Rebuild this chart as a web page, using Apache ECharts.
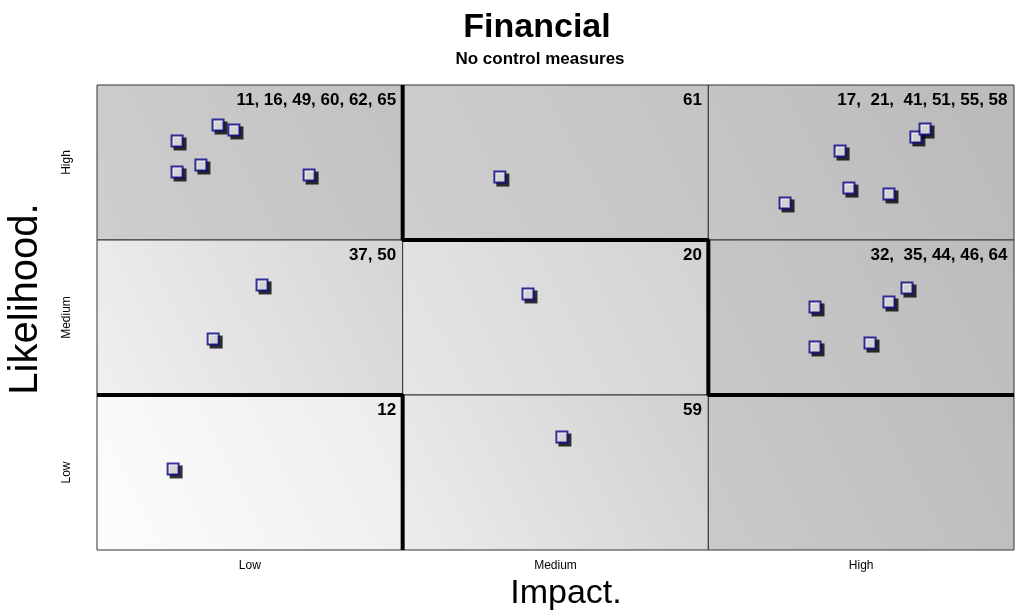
<!DOCTYPE html>
<html><head><meta charset="utf-8">
<script src="https://cdn.jsdelivr.net/npm/echarts@6/dist/echarts.min.js"></script>
<style>html,body{margin:0;padding:0;background:#fff}#c{width:1016px;height:616px}</style>
</head><body><div id="c"></div>
<script>
// ---- data ----
const chartTitle = 'Financial';
const chartSubtitle = 'No control measures';
const impactLevels = ['Low', 'Medium', 'High'];
const likelihoodLevels = ['Low', 'Medium', 'High'];
const impactAxisName = 'Impact.';
const likelihoodAxisName = 'Likelihood.';
// risk points on a 0-3 scale (each level spans one unit)
const pointImpact = [0.262, 0.340, 0.262, 0.694, 0.396, 0.448, 1.318, 2.251, 2.460, 2.591, 2.431, 2.679, 2.709, 0.380, 0.540, 1.410, 2.349, 2.529, 2.349, 2.591, 2.650, 0.249, 1.521];
const pointLikelihood = [2.639, 2.484, 2.439, 2.419, 2.742, 2.710, 2.406, 2.239, 2.335, 2.297, 2.574, 2.665, 2.716, 1.361, 1.710, 1.652, 1.310, 1.335, 1.568, 1.600, 1.690, 0.523, 0.729];
// risk ids per cell
const cellImpact = [0, 1, 2, 0, 1, 2, 0, 1, 2];
const cellLikelihood = [2, 2, 2, 1, 1, 1, 0, 0, 0];
const cellRiskIds = ['11, 16, 49, 60, 62, 65', '61', '17,  21,  41, 51, 55, 58', '37, 50', '20', '32,  35, 44, 46, 64', '12', '59', ''];
// zone boundaries
const lowZoneBoundary = [[0, 1], [1, 1], [1, 0]];
const highZoneBoundary = [[1, 3], [1, 2], [2, 2], [2, 1], [3, 1]];

// ---- styles ----
const FONT = 'Liberation Sans, Arial, sans-serif';
const cellShades = [
  ['#cecece', '#c2c2c2'], ['#cecece', '#c4c4c4'], ['#c6c6c6', '#bababa'],
  ['#f0f0f0', '#d4d4d4'], ['#e6e6e6', '#d2d2d2'], ['#c8c8c8', '#bcbcbc'],
  ['#fdfdfd', '#ececec'], ['#ededed', '#cfcfcf'], ['#cacaca', '#bcbcbc']
];

const areas = cellRiskIds.map((ids, k) => [
  {
    name: ids,
    coord: [cellImpact[k], cellLikelihood[k]],
    itemStyle: {
      color: { type: 'linear', x: 0, y: 1, x2: 1, y2: 0,
        colorStops: [{ offset: 0, color: cellShades[k][0] }, { offset: 1, color: cellShades[k][1] }] },
      borderColor: '#333', borderWidth: 1
    }
  },
  { coord: [cellImpact[k] + 1, cellLikelihood[k] + 1] }
]);

const points = pointImpact.map((x, i) => [x, pointLikelihood[i]]);

const chart = echarts.init(document.getElementById('c'), null, { renderer: 'canvas' });
chart.setOption({
  animation: false,
  backgroundColor: '#fff',
  title: [
    { text: chartTitle, left: 532, top: 6, textAlign: 'center', padding: 5,
      textStyle: { fontFamily: FONT, fontSize: 34, fontWeight: 'bold', color: '#000' } },
    { text: chartSubtitle, left: 535, top: 46, textAlign: 'center',
      textStyle: { fontFamily: FONT, fontSize: 17, fontWeight: 'bold', color: '#000' } }
  ],
  grid: { left: 97, right: 2, top: 85, bottom: 66 },
  xAxis: [
    { type: 'value', min: 0, max: 3, interval: 1, show: false },
    { type: 'category', data: impactLevels, position: 'bottom', boundaryGap: true,
      axisLine: { show: false }, axisTick: { show: false }, splitLine: { show: false },
      axisLabel: { fontFamily: FONT, fontSize: 12, color: '#000', margin: 10 } }
  ],
  yAxis: [
    { type: 'value', min: 0, max: 3, interval: 1, show: false },
    { type: 'category', data: likelihoodLevels, position: 'left', boundaryGap: true,
      axisLine: { show: false }, axisTick: { show: false }, splitLine: { show: false },
      axisLabel: { fontFamily: FONT, fontSize: 12, color: '#000', margin: 24, rotate: 90 } }
  ],
  graphic: [
    { type: 'text', x: 566, y: 594, z: 10,
      style: { text: impactAxisName, font: '34px ' + FONT, fill: '#000', align: 'center', verticalAlign: 'middle' } },
    { type: 'text', x: 26, y: 299, rotation: Math.PI / 2, z: 10,
      style: { text: likelihoodAxisName, font: '40px ' + FONT, fill: '#000', align: 'center', verticalAlign: 'middle' } }
  ],
  series: [
    { type: 'line', xAxisIndex: 0, yAxisIndex: 0, data: [], silent: true,
      markArea: { silent: true, data: areas,
        label: { show: true, position: 'insideTopRight', distance: 7, fontFamily: FONT,
          fontSize: 17, fontWeight: 'bold', color: '#000', formatter: p => p.name } } },
    { type: 'line', xAxisIndex: 0, yAxisIndex: 0, data: lowZoneBoundary, z: 3, symbol: 'none',
      lineStyle: { color: '#000', width: 4 }, silent: true },
    { type: 'line', xAxisIndex: 0, yAxisIndex: 0, data: highZoneBoundary, z: 3, symbol: 'none',
      lineStyle: { color: '#000', width: 4 }, silent: true },
    { type: 'scatter', xAxisIndex: 0, yAxisIndex: 0, data: points, z: 4, symbol: 'rect',
      symbolSize: 13, symbolOffset: [3, 3], itemStyle: { color: '#000' }, silent: true },
    { type: 'scatter', xAxisIndex: 0, yAxisIndex: 0, data: points, z: 5, symbol: 'rect',
      symbolSize: 11, itemStyle: { color: '#fff', borderColor: '#000080', borderWidth: 2 }, silent: true }
  ]
});
</script></body></html>
